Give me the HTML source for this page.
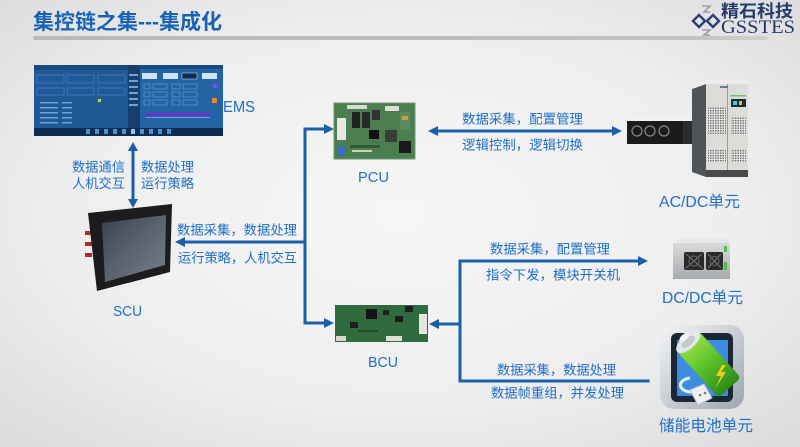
<!DOCTYPE html>
<html><head><meta charset="utf-8">
<style>
html,body{margin:0;padding:0;}
body{width:800px;height:447px;overflow:hidden;background:#ececec;}
svg{display:block;}
.t{font-family:"Liberation Sans","Noto Sans CJK SC",sans-serif;fill:#1f6fc6;}
</style></head>
<body>
<svg width="800" height="447" viewBox="0 0 800 447" xmlns="http://www.w3.org/2000/svg">
<defs>
<radialGradient id="bg" cx="50%" cy="48%" r="70%">
<stop offset="0" stop-color="#f6f6f6"/>
<stop offset="0.6" stop-color="#eeeeee"/>
<stop offset="1" stop-color="#dcdcdc"/>
</radialGradient>
<linearGradient id="bar" x1="0" x2="1" y1="0" y2="0">
<stop offset="0" stop-color="#b8b8b8"/>
<stop offset="0.9" stop-color="#c2c2c2"/>
<stop offset="1" stop-color="#d0d0d0"/>
</linearGradient>
<linearGradient id="silver" x1="0" y1="0" x2="1" y2="1">
<stop offset="0" stop-color="#f2f4f6"/>
<stop offset="0.5" stop-color="#c9ced4"/>
<stop offset="1" stop-color="#9ea5ad"/>
</linearGradient>
<linearGradient id="green" x1="0" y1="0" x2="1" y2="0">
<stop offset="0" stop-color="#9be04a"/>
<stop offset="0.45" stop-color="#5ec32a"/>
<stop offset="1" stop-color="#2e8a1a"/>
</linearGradient>
<linearGradient id="screen" x1="0" y1="0" x2="1" y2="1">
<stop offset="0" stop-color="#3a4150"/>
<stop offset="0.5" stop-color="#5b6270"/>
<stop offset="1" stop-color="#7a7f88"/>
</linearGradient>
<linearGradient id="dcbox" x1="0" y1="0" x2="0" y2="1">
<stop offset="0" stop-color="#d8dadc"/>
<stop offset="1" stop-color="#a8abae"/>
</linearGradient>
<pattern id="vent" width="2.5" height="2.5" patternUnits="userSpaceOnUse">
<rect width="2.5" height="2.5" fill="#e4e4e0"/>
<rect width="1.4" height="1.4" fill="#6a6a6a"/>
</pattern>
</defs>

<rect width="800" height="447" fill="url(#bg)"/>

<!-- Header -->
<text x="33" y="29" font-family="'Liberation Sans','Noto Sans CJK SC',sans-serif" font-weight="bold" font-size="21" fill="#1862b6" textLength="189" lengthAdjust="spacingAndGlyphs">集控链之集---集成化</text>
<rect x="33" y="36" width="735" height="4" rx="2" fill="url(#bar)"/>

<!-- Logo -->
<g>
<path d="M693 21 L699 15 L705 21 L699 27 Z" fill="none" stroke="#2a3f73" stroke-width="2.4"/>
<path d="M707 21 L713 15 L719 21 L713 27 Z" fill="none" stroke="#2a3f73" stroke-width="2.4"/>
<path d="M702 6 L710 6 L704 12 L710 12" fill="none" stroke="#9aa0a8" stroke-width="1.6"/>
<path d="M702 30 L710 30 L704 35 L710 35" fill="none" stroke="#9aa0a8" stroke-width="1.6"/>
<text x="721" y="17" font-family="'Liberation Sans','Noto Sans CJK SC',sans-serif" font-weight="bold" font-size="17" fill="#243a6c" textLength="72" lengthAdjust="spacingAndGlyphs">精石科技</text>
<text x="721" y="33" font-family="'Liberation Serif',serif" font-size="19" fill="#243a6c" textLength="74" lengthAdjust="spacingAndGlyphs">GSSTES</text>
</g>

<!-- EMS screen -->
<g>
<rect x="34" y="65" width="189" height="71" fill="#1f5a97"/>
<rect x="34" y="65" width="94" height="5" fill="#174a80"/>
<rect x="128" y="65" width="95" height="63" fill="#2464a4"/>
<rect x="128" y="65" width="12" height="63" fill="#163f6e"/>
<rect x="140" y="65" width="83" height="4" fill="#174a80"/>
<rect x="34" y="128" width="189" height="8" fill="#0e2b50"/>
<g fill="#4f8fd0">
<rect x="86" y="129" width="4" height="5"/><rect x="95" y="129" width="4" height="5"/><rect x="104" y="129" width="4" height="5"/><rect x="113" y="129" width="4" height="5"/><rect x="122" y="129" width="4" height="5"/><rect x="131" y="129" width="4" height="5" fill="#8fc4f0"/><rect x="140" y="129" width="4" height="5"/><rect x="149" y="129" width="4" height="5"/><rect x="158" y="129" width="4" height="5"/><rect x="167" y="129" width="4" height="5"/>
</g>
<g fill="none" stroke="#3f7fc0" stroke-width="0.8">
<rect x="37" y="75" width="27" height="8"/><rect x="67" y="75" width="27" height="8"/><rect x="98" y="75" width="27" height="8"/>
<rect x="37" y="88" width="27" height="7"/><rect x="67" y="88" width="27" height="7"/><rect x="98" y="88" width="27" height="7"/>
</g>
<g fill="#6fa3d6">
<rect x="40" y="102" width="18" height="1.5"/><rect x="40" y="107" width="18" height="1.5"/><rect x="40" y="112" width="18" height="1.5"/><rect x="40" y="117" width="18" height="1.5"/><rect x="40" y="122" width="18" height="1.5"/>
<rect x="62" y="102" width="10" height="1.5"/><rect x="62" y="107" width="10" height="1.5"/><rect x="62" y="112" width="10" height="1.5"/><rect x="62" y="117" width="10" height="1.5"/><rect x="62" y="122" width="10" height="1.5"/>
<rect x="129" y="74" width="9" height="2"/><rect x="129" y="80" width="9" height="2"/><rect x="129" y="86" width="9" height="2"/><rect x="129" y="92" width="9" height="2"/><rect x="129" y="98" width="9" height="2"/><rect x="129" y="104" width="9" height="2"/>
</g>
<rect x="98" y="99" width="3" height="3" fill="#b6d84a"/>
<g fill="#cfe3f5"><rect x="142" y="73" width="15" height="6"/><rect x="163" y="73" width="15" height="6"/><rect x="202" y="73" width="15" height="6"/></g>
<rect x="182" y="73" width="15" height="6" fill="#0e2b50" stroke="#cfe3f5" stroke-width="0.5"/>
<g fill="none" stroke="#5aa0d8" stroke-width="0.7">
<rect x="144" y="84" width="6" height="5"/><rect x="153" y="84" width="14" height="5"/><rect x="172" y="84" width="8" height="5"/><rect x="183" y="84" width="14" height="5"/>
<rect x="144" y="92" width="6" height="5"/><rect x="153" y="92" width="14" height="5"/><rect x="172" y="92" width="8" height="5"/><rect x="183" y="92" width="14" height="5"/>
<rect x="144" y="100" width="6" height="5"/><rect x="153" y="100" width="14" height="5"/><rect x="172" y="100" width="8" height="5"/><rect x="183" y="100" width="14" height="5"/>
</g>
<circle cx="215" cy="86" r="2.5" fill="#7a4ce0"/>
<rect x="212" y="98" width="5" height="5" fill="#f08a20"/>
<rect x="145" y="113" width="65" height="3" fill="#6a2fd0"/>
<rect x="145" y="117" width="65" height="0.8" fill="#7fb0e0"/>
</g>
<text class="t" x="223" y="112" font-size="16" textLength="32" lengthAdjust="spacingAndGlyphs">EMS</text>

<!-- EMS-SCU arrow -->
<g fill="#1b5fa9" stroke="none">
<rect x="131.5" y="149" width="3" height="52"/>
<path d="M133 142 L128 151 L138 151 Z"/>
<path d="M133 208 L128 199 L138 199 Z"/>
</g>
<g class="t" font-size="13.3">
<text x="72" y="171.5" textLength="53" lengthAdjust="spacingAndGlyphs">数据通信</text>
<text x="72" y="188" textLength="53" lengthAdjust="spacingAndGlyphs">人机交互</text>
<text x="141" y="171.5" textLength="53" lengthAdjust="spacingAndGlyphs">数据处理</text>
<text x="141" y="188" textLength="53" lengthAdjust="spacingAndGlyphs">运行策略</text>
</g>

<!-- SCU device -->
<g>
<rect x="85" y="231" width="7" height="4" fill="#b02a2a"/>
<rect x="85" y="242" width="7" height="4" fill="#b02a2a"/>
<rect x="85" y="253" width="7" height="4" fill="#b02a2a"/>
<path d="M88 213 L172 204 L170 272 L97 291 Z" fill="#1c1c1e"/>
<path d="M102 223 L166 215 L165 265 L105 282 Z" fill="url(#screen)"/>
</g>
<text class="t" x="113" y="316" font-size="15" textLength="29" lengthAdjust="spacingAndGlyphs">SCU</text>

<!-- Main connectors -->
<g fill="#1b5fa9">
<rect x="303.5" y="127.5" width="3" height="197"/>
<rect x="303.5" y="127.5" width="22" height="3"/>
<path d="M334 129 L324 124 L324 134 Z"/>
<rect x="303.5" y="321.5" width="22" height="3"/>
<path d="M334 323 L324 318 L324 328 Z"/>
<rect x="183" y="240.5" width="122" height="3"/>
<path d="M175 242 L185 237 L185 247 Z"/>
<!-- PCU - ACDC -->
<rect x="436" y="129.5" width="178" height="3"/>
<path d="M428 131 L438 126 L438 136 Z"/>
<path d="M622 131 L612 126 L612 136 Z"/>
<!-- BCU right -->
<rect x="437" y="322.5" width="24" height="3"/>
<path d="M429 324 L439 319 L439 329 Z"/>
<rect x="458.5" y="259.5" width="3" height="123"/>
<rect x="458.5" y="259.5" width="181" height="3"/>
<path d="M648 261 L638 256 L638 266 Z"/>
<rect x="458.5" y="379.5" width="191" height="3"/>
</g>
<g class="t" font-size="13.3">
<text x="177" y="234.5" textLength="120" lengthAdjust="spacingAndGlyphs">数据采集，数据处理</text>
<text x="178" y="262.5" textLength="119" lengthAdjust="spacingAndGlyphs">运行策略，人机交互</text>
<text x="462" y="123.5" textLength="121" lengthAdjust="spacingAndGlyphs">数据采集，配置管理</text>
<text x="462" y="149.5" textLength="121" lengthAdjust="spacingAndGlyphs">逻辑控制，逻辑切换</text>
<text x="490" y="253.5" textLength="120" lengthAdjust="spacingAndGlyphs">数据采集，配置管理</text>
<text x="486" y="279.5" textLength="134" lengthAdjust="spacingAndGlyphs">指令下发，模块开关机</text>
<text x="497" y="374.5" textLength="119" lengthAdjust="spacingAndGlyphs">数据采集，数据处理</text>
<text x="491" y="397.5" textLength="133" lengthAdjust="spacingAndGlyphs">数据帧重组，并发处理</text>
</g>

<!-- PCU board -->
<g>
<rect x="334" y="103" width="81" height="56" fill="#4b7f50"/>
<rect x="334" y="103" width="81" height="56" fill="none" stroke="#6a9a6c" stroke-width="1"/>
<rect x="337" y="118" width="9" height="22" fill="#e6e8e4"/>
<rect x="337" y="146" width="9" height="10" fill="#3d6fb8"/>
<rect x="347" y="105" width="20" height="4" fill="#d8dad6"/>
<rect x="352" y="112" width="8" height="16" fill="#222"/>
<rect x="362" y="112" width="8" height="16" fill="#2a2a2a"/>
<rect x="372" y="110" width="8" height="10" fill="#333"/>
<rect x="385" y="106" width="14" height="5" fill="#ddd"/>
<rect x="369" y="130" width="10" height="9" fill="#111"/>
<rect x="385" y="130" width="12" height="12" fill="#3b3b3b"/>
<rect x="399" y="141" width="12" height="12" fill="#1a1a1a"/>
<rect x="350" y="145" width="30" height="3" fill="#2e5a34"/>
<rect x="352" y="150" width="20" height="2" fill="#cfcfb0"/>
<rect x="400" y="112" width="10" height="18" fill="#5c8a5e"/>
<rect x="402" y="116" width="6" height="4" fill="#c9a24a"/>
</g>
<text class="t" x="358" y="182" font-size="15" textLength="31" lengthAdjust="spacingAndGlyphs">PCU</text>

<!-- BCU board -->
<g>
<rect x="335" y="305" width="93" height="37" fill="#2f6b3c"/>
<rect x="366" y="309" width="11" height="10" fill="#141414"/>
<rect x="395" y="316" width="8" height="6" fill="#1a1a1a"/>
<rect x="350" y="322" width="8" height="6" fill="#1e1e1e"/>
<rect x="383" y="310" width="6" height="5" fill="#222"/>
<rect x="419" y="314" width="8" height="20" fill="#e4e4dc"/>
<rect x="336" y="336" width="10" height="5" fill="#d8d8cc"/>
<rect x="386" y="336" width="16" height="5" fill="#e0e0d8"/>
<rect x="405" y="306" width="8" height="6" fill="#202020"/>
<rect x="358" y="330" width="20" height="2" fill="#1f4a28"/>
</g>
<text class="t" x="368" y="367" font-size="15" textLength="30" lengthAdjust="spacingAndGlyphs">BCU</text>

<!-- AC/DC unit -->
<g>
<path d="M627 121 L633 117 L692 117 L692 121 Z" fill="#f2f2f2"/>
<rect x="627" y="121" width="65" height="23" fill="#1b1b1b"/>
<rect x="683" y="121" width="9" height="23" fill="#2c2c2c"/>
<g fill="none" stroke="#8a8a8a" stroke-width="1.2">
<circle cx="637" cy="131" r="5"/><circle cx="650" cy="131" r="5"/><circle cx="664" cy="131" r="5"/>
</g>
<path d="M692 89 L706 84 L706 177 L692 172 Z" fill="#4f5458"/>
<path d="M692 89 L704 80 L748 80 L748 84 L706 84 Z" fill="#ececea"/>
<rect x="706" y="84" width="42" height="92" fill="#dcdcd8"/>
<line x1="727.5" y1="84" x2="727.5" y2="172" stroke="#9a9a98" stroke-width="1"/>
<rect x="706" y="170" width="42" height="7" fill="#4a4a4a"/>
<rect x="720" y="86" width="8" height="2" fill="#6a7a8a"/>
<rect x="730" y="95" width="16" height="1.5" fill="#6cc070"/>
<rect x="731" y="99" width="15" height="8" fill="#1d2a3a"/>
<rect x="733" y="101" width="4" height="4" fill="#3ad0e0"/>
<rect x="739" y="101" width="3" height="4" fill="#e0c040"/>
<rect x="708" y="107" width="18" height="27" fill="url(#vent)"/>
<rect x="708" y="150" width="18" height="12" fill="url(#vent)"/>
<rect x="731" y="117" width="15" height="18" fill="url(#vent)"/>
<rect x="731" y="150" width="15" height="12" fill="url(#vent)"/>
</g>
<text class="t" x="659" y="207" font-size="16" textLength="81" lengthAdjust="spacingAndGlyphs">AC/DC单元</text>

<!-- DC/DC unit -->
<g>
<path d="M673 242 L680 238 L727 238 L730 244 Z" fill="#e6e7e8"/>
<rect x="673" y="243" width="57" height="36" fill="url(#dcbox)"/>
<rect x="684" y="252" width="20" height="18" rx="2" fill="#2a2a2a"/>
<rect x="706" y="252" width="17" height="18" rx="2" fill="#2a2a2a"/>
<path d="M686 254 L702 268 M702 254 L686 268 M708 254 L721 268 M721 254 L708 268" stroke="#777" stroke-width="1"/>
<circle cx="694" cy="261" r="5" fill="none" stroke="#666" stroke-width="1"/>
<circle cx="714.5" cy="261" r="4.5" fill="none" stroke="#666" stroke-width="1"/>
<rect x="724" y="246" width="3" height="6" fill="#4cc04c"/>
<rect x="724" y="262" width="3" height="8" fill="#4cc04c"/>
</g>
<text class="t" x="662" y="303" font-size="16" textLength="81" lengthAdjust="spacingAndGlyphs">DC/DC单元</text>

<!-- Battery icon -->
<g>
<rect x="660" y="325" width="84" height="84" rx="14" fill="url(#silver)"/>
<rect x="671" y="333" width="62" height="69" rx="6" fill="#1c2735"/>
<rect x="677" y="340" width="51" height="56" fill="#3c8de0"/>
<g transform="translate(711 367) rotate(48)">
<rect x="-34" y="-15" width="62" height="30" rx="4" fill="url(#green)" transform="rotate(0)"/>
<ellipse cx="-34" cy="0" rx="7" ry="15" fill="#e4e8e8"/>
<ellipse cx="-34" cy="0" rx="4" ry="8" fill="#c4cacc"/>
<ellipse cx="-40" cy="0" rx="3" ry="6" fill="#f4f6f6"/>
</g>
<path d="M722 365 L716 376 L721 376 L715 389 L726 372 L721 372 L726 365 Z" fill="#e8d020"/>
<path d="M690 378 C676 380 678 392 692 392" fill="none" stroke="#e8eef2" stroke-width="3"/>
<path d="M690 390 L704 384 L712 398 L698 405 Z" fill="#eef0f2" stroke="#b8c0c6" stroke-width="1"/>
<circle cx="700" cy="395" r="1.3" fill="#777"/><circle cx="705" cy="393" r="1.3" fill="#777"/>
</g>
<text class="t" x="659" y="431" font-size="16" textLength="94" lengthAdjust="spacingAndGlyphs">储能电池单元</text>
</svg>
</body></html>
